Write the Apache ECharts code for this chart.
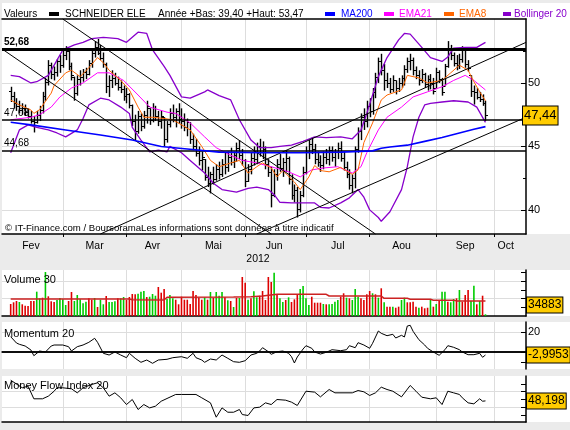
<!DOCTYPE html>
<html><head><meta charset="utf-8">
<script src="https://cdn.jsdelivr.net/npm/echarts@6/dist/echarts.min.js"></script>
<style>html,body{margin:0;padding:0;background:#ebebeb}#c{width:570px;height:430px}</style>
</head><body><div id="c"></div><script>
// ---------- axis structure (trading days per month) ----------
const months = [['Fev',21],['Mar',22],['Avr',19],['Mai',22],['Jun',21],['Jul',22],['Aou',23],['Sep',20],['Oct',12]];
const firstDay = 3; // index of first trading day with data
// ---------- price data (OHLC) ----------
const open = [49.4,49.0,48.4,48.2,47.9,48.0,47.7,47.4,47.0,46.9,47.5,47.9,49.0,50.1,51.4,50.7,50.9,51.7,51.4,52.2,
52.5,51.3,50.5,49.2,50.3,50.5,50.9,50.7,51.6,52.4,52.8,52.4,52.0,51.5,49.8,50.2,50.4,50.0,49.7,49.5,
49.0,49.1,48.3,47.0,46.2,47.4,46.6,47.5,48.0,47.1,48.0,47.4,47.0,47.3,45.6,46.8,47.6,47.3,47.8,47.2,
47.0,46.5,46.9,45.6,45.0,44.5,43.9,44.0,42.6,42.1,42.8,42.4,43.2,42.8,43.6,43.4,44.2,43.8,44.3,44.9,
44.3,43.9,42.3,43.2,44.1,44.0,45.0,44.6,44.8,43.6,43.0,41.2,42.8,43.6,43.3,43.8,44.1,42.4,41.2,41.6,
40.1,41.2,43.0,44.6,45.2,44.8,44.0,43.8,43.5,44.2,44.0,44.7,44.2,44.6,44.9,44.1,43.4,42.8,42.0,42.5,
44.8,46.2,47.3,47.0,48.2,47.8,49.3,50.5,51.7,51.0,50.2,50.0,49.5,50.2,49.6,50.0,50.4,51.1,51.7,51.8,
51.0,50.6,50.2,50.7,49.9,50.3,50.0,49.6,50.9,50.3,49.8,51.3,52.6,52.2,51.6,51.4,51.9,52.7,51.5,50.6,
49.4,49.3,48.9,48.7,48.4];
const high = [49.7,49.3,48.8,48.6,48.4,48.3,48.0,47.8,47.4,47.8,48.2,49.3,50.4,51.8,51.6,51.3,51.9,52.2,52.6,52.9,
52.6,51.6,50.5,50.6,51.0,51.1,51.2,51.8,52.7,53.3,53.47,53.0,52.4,51.6,50.6,51.0,50.8,50.5,50.2,49.8,
49.6,49.2,48.3,47.5,47.8,47.6,47.8,48.6,48.0,48.4,48.2,47.8,47.8,47.3,47.0,48.0,48.3,48.0,48.4,48.0,
47.6,47.2,46.9,46.0,45.6,45.0,44.6,44.0,43.4,43.0,43.4,43.6,43.8,44.0,44.5,44.6,44.9,44.6,45.3,45.5,
44.8,44.0,43.6,44.5,45.0,45.3,45.6,45.4,45.0,44.0,43.4,43.2,44.0,44.4,44.1,44.7,44.2,42.8,42.0,41.8,
41.5,43.4,45.0,45.5,45.7,45.2,44.6,44.3,44.6,44.8,45.0,45.0,44.8,45.3,45.4,44.6,43.8,43.2,42.8,45.0,
46.5,47.6,48.0,48.6,48.8,49.6,50.8,52.0,52.3,51.5,50.8,50.4,50.6,50.2,50.4,50.6,51.4,52.0,52.3,52.0,
51.3,51.0,51.1,50.8,50.6,50.7,50.4,51.2,51.0,50.4,51.5,53.3,53.0,52.4,52.2,52.3,52.9,52.8,51.8,50.6,
49.8,49.6,49.3,49.1,48.6];
const low = [48.5,48.0,47.8,47.6,47.5,47.4,47.2,46.8,46.1,46.8,47.0,47.6,48.6,49.8,50.3,50.2,50.5,50.8,51.2,51.8,
51.0,50.2,48.6,49.0,49.8,50.1,50.3,50.6,51.2,52.0,52.2,51.8,51.2,49.2,48.9,49.6,49.8,49.4,49.2,48.6,
48.4,48.0,46.6,45.5,46.0,46.2,46.4,46.8,46.7,46.9,47.0,46.6,46.4,45.0,45.3,46.5,46.9,46.5,46.8,46.4,
46.2,45.8,45.2,44.7,44.2,43.5,43.1,42.3,41.8,41.3,42.0,42.3,42.4,42.6,42.8,43.0,43.5,43.3,43.8,44.0,
43.5,41.8,42.2,42.8,43.5,43.6,44.2,44.0,43.2,42.6,40.2,41.0,42.3,43.0,42.6,43.0,42.0,40.8,40.6,39.4,
39.8,41.0,42.8,44.0,44.4,43.6,43.4,43.0,43.2,43.6,43.5,43.8,43.4,44.0,43.8,43.1,42.5,41.6,41.3,41.7,
44.5,45.5,46.3,46.5,47.3,47.5,48.8,50.0,50.6,49.4,49.6,49.2,49.3,49.1,49.3,49.6,49.8,50.8,51.0,50.6,
50.3,49.8,50.0,49.6,49.4,49.5,49.1,49.6,50.0,49.0,49.8,51.2,51.8,51.3,51.0,51.1,51.6,51.2,50.9,48.9,
48.3,48.7,48.5,48.2,47.0];
const close = [49.0,48.4,48.2,47.9,48.0,47.7,47.4,47.0,46.9,47.5,47.9,49.0,50.1,51.4,50.7,50.9,51.7,51.4,52.2,52.5,
51.3,50.6,49.2,50.3,50.5,50.9,50.7,51.6,52.4,52.8,52.4,52.0,51.5,49.8,50.2,50.4,50.0,49.7,49.5,49.0,
49.1,48.3,47.0,46.2,47.4,46.6,47.5,48.2,47.1,48.0,47.4,47.0,47.4,45.6,46.8,47.6,47.3,47.8,47.2,47.0,
46.5,46.9,45.6,45.0,44.5,43.9,44.2,42.6,42.1,42.8,42.4,43.2,42.8,43.6,43.4,44.2,43.8,44.3,44.9,44.3,
43.9,42.3,43.2,44.1,44.0,45.0,44.6,44.8,43.6,43.0,41.2,42.8,43.6,43.3,43.8,44.1,42.4,41.2,41.6,40.1,
41.2,43.0,44.6,45.2,44.8,44.0,43.8,43.5,44.2,44.0,44.7,44.2,44.6,44.9,44.1,43.4,42.8,42.0,42.5,44.8,
46.2,47.3,47.0,48.2,47.8,49.3,50.5,51.7,51.0,50.2,50.0,49.5,50.2,49.6,50.0,50.4,51.1,51.7,51.8,51.0,
50.6,50.2,50.7,49.9,50.3,50.0,49.4,50.9,50.3,49.3,51.3,52.6,52.2,51.6,51.4,51.9,52.7,51.5,51.2,49.4,
49.3,48.9,48.7,48.4,47.44];
// ---------- overlays: [day index, value] ----------
const ma200 = [[3,46.9],[10,46.7],[22,46.3],[34,45.9],[45,45.5],[55,45.0],[64,44.8],[75,44.55],[90,44.5],[103,44.5],[117,44.55],[128,44.65],[131,44.85],[134,44.95],[140,45.1],[146,45.4],[152,45.7],[157,46.0],[163,46.35],[167,46.56]];
const ema21 = [[3,47.1],[10,47.3],[13,47.5],[17,48.1],[20,48.9],[24,49.6],[28,50.0],[33,50.8],[37,50.8],[42,50.2],[47,49.05],[51,48.1],[57,47.7],[60,47.6],[65,46.85],[70,45.75],[74,44.9],[79,44.3],[83,43.9],[88,43.7],[93,43.4],[99,43.0],[103,42.6],[107,43.15],[111,43.3],[116,43.4],[121,42.9],[124,43.4],[126,44.5],[130,46.3],[133,47.3],[138,48.1],[142,48.9],[147,49.3],[152,49.7],[156,50.2],[160,50.6],[163,50.2],[167,49.45]];
const ema8 = [[3,48.66],[6,48.27],[10,47.87],[11,47.6],[13,47.9],[17,49.2],[18,49.8],[22,50.8],[24,51.0],[27,50.5],[30,51.2],[33,52.0],[35,51.6],[37,51.0],[41,50.2],[44,49.45],[47,48.1],[49,47.3],[52,47.3],[56,47.2],[59,47.1],[65,46.3],[69,45.0],[72,43.9],[75,43.4],[79,43.7],[82,43.9],[85,42.9],[88,43.4],[90,43.7],[93,43.3],[95,42.6],[97,43.1],[101,42.2],[103,41.6],[106,42.6],[108,43.5],[110,43.1],[113,43.0],[117,43.35],[121,42.8],[123,43.15],[125,45.3],[128,46.85],[131,48.66],[133,49.05],[138,49.45],[140,50.6],[144,50.4],[147,50.0],[152,50.2],[155,50.8],[158,51.4],[161,51.0],[163,50.1],[165,49.3],[167,48.6]];
const bollUp = [[3,50.6],[6,50.5],[10,50.0],[12,50.1],[16,50.6],[19,51.8],[21,52.6],[25,53.0],[28,53.2],[31,53.5],[35,53.6],[40,53.5],[43,53.2],[45,53.6],[47,54.0],[50,53.9],[52,52.6],[56,51.3],[58,50.6],[62,48.9],[65,48.8],[70,49.3],[71,49.45],[75,49.0],[79,48.66],[82,47.1],[86,45.5],[89,44.9],[93,44.9],[96,45.0],[100,45.1],[104,45.4],[108,45.75],[112,45.7],[117,45.75],[121,45.6],[124,46.3],[126,47.6],[130,50.5],[133,52.0],[137,53.4],[139,53.9],[141,53.85],[145,52.8],[148,52.0],[152,51.7],[154,52.05],[156,52.75],[160,52.8],[164,52.8],[167,53.2]];
const bollLow = [[3,44.5],[6,46.3],[9,46.7],[12,46.5],[16,46.3],[19,46.06],[22,45.75],[26,46.3],[28,47.2],[30,48.27],[34,48.8],[37,48.66],[41,48.1],[44,47.6],[45,46.5],[48,45.5],[51,44.57],[54,44.7],[57,44.57],[58,45.0],[62,44.5],[65,43.9],[70,42.9],[73,42.1],[76,41.6],[81,41.4],[85,41.7],[88,41.8],[92,41.6],[94,41.2],[96,40.6],[100,40.55],[104,40.55],[108,40.55],[110,40.2],[113,40.15],[117,40.55],[120,40.95],[123,41.6],[125,41.0],[127,40.0],[130,39.4],[131,39.1],[134,39.85],[138,41.6],[140,43.4],[142,45.75],[144,47.3],[146,48.27],[148,48.4],[152,48.5],[156,48.6],[161,48.5],[164,48.1],[167,46.9]];
const levels = [52.68, 47.08, 44.68];
const lastClose = 47.44;
const trendLines = [[[0,52.68],[92.5,38.1]],[[21.1,55.04],[128.5,38.1]],[[33.9,38.1],[181,53.2]],[[88.4,38.1],[181,47.3]]];
const priceLabels = [40,45,50];
const priceMinor = [42.5,47.5,52.5];
// ---------- volume ----------
const volume = [27700,31600,34600,32300,27000,23800,23100,34600,34600,56100,
40800,42200,101500,45400,33900,32300,36900,41500,38500,25400,
34600,55400,34600,48400,38500,29300,33000,40800,37600,41500,
20800,37600,27000,46100,32300,32300,33900,40800,40800,43800,
36900,43800,50800,50100,51400,56100,57700,43800,44500,50800,
46800,66900,53800,62300,39900,48400,40800,37600,27000,44500,
37600,37600,27700,57700,48400,42200,37600,43100,37600,55400,
42200,55400,46800,55400,43100,36200,34600,20800,41500,41500,
90000,76800,37600,40800,57000,43100,46800,57700,36900,90000,
78400,99900,50100,40800,32300,36900,43100,32300,38500,48400,
62300,69200,40800,25400,44500,30700,30700,30700,27700,27000,
27000,27700,33000,36900,44500,52400,42200,40800,36900,62300,
44500,40800,36900,50100,57700,52400,50100,42200,63900,31600,
21500,21500,21500,19100,21500,36900,42200,31600,31600,33000,
21500,19100,21500,17800,19100,36900,21500,27700,34600,56100,
56100,33000,31600,39200,40800,60000,33000,48400,60000,34600,
69900,27000,34600,46800,3900];
const volDir = 'rrrgrrrrrggrgrrrggggrrgggggrrgrggrgggrggrrrrgggrgggrrrgggrrrrrrrrrrgrgrgggrgrgrgrrgrggrrrrrgrggrgrrrggggrrrrgrggggrrgrgggrrrrgrgrgrrgrrggrrrrgrrrgrgrggrggrgrrrggrgrg';
const volMA30 = [[3,39200],[44,39200],[45,37600],[56,37000],[57,43100],[80,43800],[86,44500],[90,46100],[95,50100],[112,50100],[113,46100],[131,46100],[132,40800],[140,40800],[141,38500],[148,38500],[149,36200],[156,36200],[157,34883],[167,34883]];
const volBox = 34883;
const volTicks = [20000,40000,60000,80000,100000];
const volGrid = [40000,80000];
// ---------- momentum 20 ----------
const momentum = [[3,15.3],[5,9],[6,7.7],[8,6],[10,2],[11,-3.7],[13,1],[15,0],[17,6],[18,7],[21,7],[23,5.3],[24,1],[26,5.3],[28,7],[30,9.7],[32,13.7],[33,9.7],[35,-1.3],[37,-3],[39,0],[41,-3],[43,-5.7],[44,-1.3],[46,-6.3],[48,-10.3],[50,-8],[52,-11.3],[54,-8],[57,-7.3],[59,-5.7],[62,-4.7],[64,-6.3],[66,-1.3],[67,-5.7],[69,-8],[70,-10.3],[72,-7],[74,-8],[76,-3],[78,-6.3],[80,-9.7],[82,-10.3],[84,-8.7],[86,-3],[88,-1.3],[89,1],[90,4.3],[92,0.3],[93,-2.3],[95,0.3],[97,1],[99,-1.3],[100,-4.7],[101,-11],[102,-5],[104,3],[105,6.3],[107,3.7],[108,0],[110,-2],[112,-0.3],[114,2.3],[117,1.3],[119,2.3],[120,6.3],[122,4.3],[123,9.3],[125,7],[127,3.7],[128,8.7],[130,21],[131,18.7],[133,16.3],[135,17.7],[136,14],[138,16.7],[139,15],[140,26],[141,26.7],[142,20.7],[144,12.3],[146,7],[147,3.7],[149,0],[151,-3.3],[153,2.3],[154,6.3],[156,4.7],[158,2.3],[159,0],[161,-2.7],[163,-2.7],[165,-1.3],[166,-5.3],[167,-2.9953]];
const momTicks = [-10,0,20];
const momGrid = [20];
// ---------- money flow index 20 ----------
const mfi = [[3,74.9],[7,65.1],[9,67.2],[11,50.9],[14,50.9],[16,54.3],[18,60.7],[19,65.1],[21,65.1],[24,63.8],[26,58.6],[28,65.1],[31,69.4],[33,71.5],[35,65.1],[37,54.3],[39,58.6],[41,52.2],[43,43.5],[45,50],[47,37.1],[49,43.5],[51,39.2],[53,41.4],[55,47.8],[57,51.3],[60,56.5],[62,56.5],[67,56.5],[69,52.2],[72,45.7],[74,27.2],[76,39.2],[78,33.6],[80,33.6],[82,37.1],[83,30.6],[85,29.4],[87,39.2],[89,40.1],[91,45.7],[93,43.5],[95,50],[98,49.1],[100,46.6],[102,42.3],[105,60.7],[108,59.5],[110,53.4],[113,62.9],[115,58.6],[121,58.6],[123,61.6],[125,59.9],[127,55.2],[129,58.6],[131,65.9],[133,62.9],[135,60.7],[138,53.4],[141,68.1],[143,60.7],[145,53],[148,50.9],[150,52.2],[152,43.5],[154,60.7],[156,58.6],[158,56.5],[159,52.2],[161,45.7],[163,44.4],[165,50.9],[166,47.8],[167,48.198]];
const mfiTicks = [30,40,50,60,70];
const mfiGrid = [40,60];

// ---------- build ----------
const FONT = 'Liberation Sans, Arial, sans-serif';
const cats = [], monthStarts = new Set(), monthLabelAt = {};
months.forEach(([name, n], mi) => {
  const start = cats.length;
  if (start > 0) monthStarts.add(start);
  const last = mi === months.length - 1;
  monthLabelAt[start + (last ? 4 : Math.floor(n / 2))] = name;
  for (let d = 0; d < n; d++) cats.push(name + ' ' + (d + 1));
});
const isStart = (i) => monthStarts.has(i);
const ohlc = close.map((c, k) => [firstDay + k, open[k], high[k], low[k], c]);
const fmtComma = (v, dec) => v.toFixed(dec).replace('.', ',');

const grids = [
  {left: 2, top: 19, width: 524, height: 215},
  {left: 2, top: 270, width: 524, height: 46},
  {left: 2, top: 322, width: 524, height: 47},
  {left: 2, top: 376, width: 524, height: 46}
];
const gridLineStyle = {color: '#dddddd', width: 1};
const HIDDEN = {color: 'rgba(0,0,0,0)', width: 1};
function catAxis(g, extra) {
  return Object.assign({
    type: 'category', gridIndex: g, data: cats, boundaryGap: false,
    axisLine: {show: true, lineStyle: {color: '#000', width: 1.5}},
    axisTick: {show: false}, axisLabel: {show: false},
    splitLine: {show: true, interval: isStart, lineStyle: gridLineStyle}
  }, extra || {});
}
function valAxes(g, min, max, ticks, gridVals, labelVals) {
  return [
    {type: 'value', gridIndex: g, position: 'right', min, max,
     axisLine: {show: true, lineStyle: {color: '#000', width: 1.5}},
     axisTick: {show: true, inside: true, customValues: ticks, length: 5, lineStyle: {color: '#000'}},
     axisLabel: labelVals ? {show: true, customValues: labelVals, color: '#000', fontSize: 11, fontFamily: FONT, margin: 2} : {show: false},
     splitLine: {show: false}},
    {type: 'value', gridIndex: g, position: 'right', min, max,
     axisLine: {show: false}, axisTick: {show: false, customValues: gridVals}, axisLabel: {show: false},
     splitLine: {show: true, lineStyle: gridLineStyle}}
  ];
}
function boxMark(value, txt, size, extra) {
  return {yAxis: value, lineStyle: HIDDEN, label: Object.assign({show: true, position: 'end', formatter: txt, distance: 1,
    backgroundColor: '#ffcc00', borderColor: '#000', borderWidth: 1, padding: [2, 1, 1, 1],
    color: '#000', fontSize: size || 12, fontFamily: FONT}, extra || {})};
}
const lineS = (name, data, color, width, xi, yi, extra) => Object.assign({
  name, type: 'line', data, xAxisIndex: xi, yAxisIndex: yi, symbol: 'none', smooth: false,
  lineStyle: {color, width}, silent: true, animation: false, z: 3
}, extra || {});

const xAxes = [
  catAxis(0, {
    axisTick: {show: true, interval: isStart, length: 3, lineStyle: {color: '#000'}},
    axisLabel: {show: true, interval: (i) => monthLabelAt[i] !== undefined,
      formatter: (v, i) => monthLabelAt[i] || '', color: '#000', fontSize: 10.5, fontFamily: FONT, margin: 7}
  }),
  catAxis(0, {position: 'top', splitLine: {show: false}}),
  catAxis(1), catAxis(2), catAxis(3)
];
const yAxes = [].concat(
  valAxes(0, 38.1, 55.04, priceLabels, priceLabels, priceLabels),
  [{type: 'value', gridIndex: 0, position: 'right', min: 38.1, max: 55.04, axisLine: {show: false},
    axisTick: {show: true, inside: true, customValues: priceMinor, length: 3, lineStyle: {color: '#000'}}, axisLabel: {show: false}, splitLine: {show: false}}],
  valAxes(1, 0, 106100, volTicks, volGrid, null),
  valAxes(2, -17, 30, momTicks, momGrid, [20]),
  valAxes(3, 21, 80.3, mfiTicks, mfiGrid, null)
);
// yAxis indices: 0/1 price, 2 price minor, 3/4 volume, 5/6 momentum, 7/8 mfi

const series = [
  {type: 'custom', name: 'SCHNEIDER ELE', xAxisIndex: 0, yAxisIndex: 0, data: ohlc, encode: {x: 0, y: [1, 2, 3, 4]},
   animation: false, silent: true, z: 2,
   renderItem: (params, api) => {
     const x = api.value(0);
     const pO = api.coord([x, api.value(1)]), pH = api.coord([x, api.value(2)]);
     const pL = api.coord([x, api.value(3)]), pC = api.coord([x, api.value(4)]);
     const cx = Math.round(pH[0]) + 0.5;
     const st = {stroke: '#000', lineWidth: 1};
     const yo = Math.round(pO[1]) + 0.5, yc = Math.round(pC[1]) + 0.5;
     return {type: 'group', children: [
       {type: 'line', shape: {x1: cx, y1: pH[1], x2: cx, y2: pL[1]}, style: {stroke: '#000', lineWidth: 1.4}},
       {type: 'line', shape: {x1: cx - 2.5, y1: yo, x2: cx, y2: yo}, style: st},
       {type: 'line', shape: {x1: cx, y1: yc, x2: cx + 2.5, y2: yc}, style: st}
     ]};
   }},
  lineS('Bollinger 20 haut', bollUp, '#8800cc', 1.3, 0, 0),
  lineS('Bollinger 20 bas', bollLow, '#8800cc', 1.3, 0, 0),
  lineS('EMA21', ema21, '#ff00ff', 1, 0, 0),
  lineS('EMA8', ema8, '#ff6600', 1, 0, 0),
  lineS('MA200', ma200, '#0000ff', 1.6, 0, 0, {
    z: 6,
    markLine: {silent: true, symbol: 'none', animation: false, data: [].concat(
      levels.map((v, k) => ({yAxis: v, lineStyle: {color: '#000', type: 'solid', width: k === 0 ? 3 : 1.5},
        label: {show: true, position: 'insideStartTop', formatter: fmtComma(v, 2), color: '#000', fontSize: 10,
          fontWeight: k === 0 ? 'bold' : 'normal', fontFamily: FONT, distance: [2, 2]}})),
      trendLines.map(([a, b]) => [{coord: a, lineStyle: {color: '#000', width: 1, type: 'solid'}, label: {show: false}}, {coord: b}]),
      [boxMark(lastClose, fmtComma(lastClose, 2), 13, {distance: -3, padding: [3, 1, 2, 1]})]
    )}
  }),
  {type: 'bar', name: 'Volume', xAxisIndex: 2, yAxisIndex: 3, barWidth: 1.6, animation: false, silent: true,
   data: volume.map((v, k) => ({value: [firstDay + k, v], itemStyle: {color: volDir[k] === 'g' ? '#00cc00' : '#dd0000'}}))},
  lineS('Volume 30', volMA30, '#cc2222', 1.5, 2, 3, {
    markLine: {silent: true, symbol: 'none', animation: false, data: [boxMark(volBox, String(volBox), 12, {offset: [0, 4]})]}
  }),
  lineS('Momentum 20', momentum, '#000', 1, 3, 5, {
    markLine: {silent: true, symbol: 'none', animation: false, data: [
      {yAxis: 0, lineStyle: {color: '#000', width: 1.5, type: 'solid'}, label: {show: false}},
      boxMark(-2.9953, '-2,9953', 12)]}
  }),
  lineS('Money Flow Index 20', mfi, '#000', 1, 4, 7, {
    markLine: {silent: true, symbol: 'none', animation: false, data: [boxMark(48.198, '48,198', 12)]}
  })
];

const HF = '10px ' + FONT;
const T = (x, y, text, color, font, align) => ({type: 'text', x, y, z: 50,
  style: {text, fill: color || '#000', font: font || ('11px ' + FONT), textVerticalAlign: 'middle', textAlign: align || 'left'}});
const R = (x, y, w, h, color, z) => ({type: 'rect', shape: {x, y, width: w, height: h}, style: {fill: color}, z: z === undefined ? 50 : z});
const graphic = [
  R(2, 3, 568, 231, '#ffffff', -10),
  R(2, 270, 568, 46, '#ffffff', -10),
  R(2, 322, 568, 47, '#ffffff', -10),
  R(2, 376, 568, 46, '#ffffff', -10),
  T(4, 14, 'Valeurs', '#000', HF),
  R(49, 12, 10, 4, '#000'),
  T(65, 14, 'SCHNEIDER ELE', '#000', HF),
  T(158, 14, 'Année +Bas: 39,40 +Haut: 53,47', '#000', HF),
  R(325, 12, 10, 4, '#0000ff'),
  T(341, 14, 'MA200', '#0000ff', HF),
  R(384, 12, 10, 4, '#ff00ff'),
  T(399, 14, 'EMA21', '#ff00ff', HF),
  R(444, 12, 10, 4, '#ff6600'),
  T(459, 14, 'EMA8', '#ff6600', HF),
  R(503, 12, 8, 4, '#8800cc'),
  T(514, 14, 'Bollinger 20', '#8800cc', HF),
  T(5, 228, '© IT-Finance.com / BoursoramaLes informations sont données à titre indicatif', '#000', '9.6px ' + FONT),
  T(258, 259, '2012', '#000', '10.5px ' + FONT, 'center'),
  T(4, 280, 'Volume 30'),
  T(4, 334, 'Momentum 20'),
  T(4, 386, 'Money Flow Index 20')
];

const chart = echarts.init(document.getElementById('c'), null, {renderer: 'canvas', width: 570, height: 430});
chart.setOption({
  backgroundColor: '#ebebeb', animation: false,
  textStyle: {fontFamily: FONT},
  grid: grids, xAxis: xAxes, yAxis: yAxes, series, graphic
});
</script></body></html>
